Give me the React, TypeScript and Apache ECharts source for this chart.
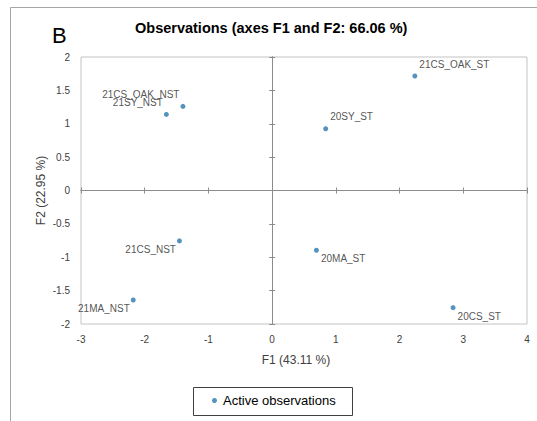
import React, { useEffect, useRef } from "react";
import * as echarts from "echarts";

const obsNames = [
  "21CS_OAK_ST",
  "20SY_ST",
  "20MA_ST",
  "20CS_ST",
  "21CS_OAK_NST",
  "21SY_NST",
  "21CS_NST",
  "21MA_NST",
];
const f1Values = [2.24, 0.84, 0.695, 2.84, -1.4, -1.66, -1.455, -2.18];
const f2Values = [1.715, 0.925, -0.895, -1.755, 1.26, 1.14, -0.755, -1.64];
const xTicks = { min: -3, max: 4, interval: 1 };
const yTicks = { min: -2, max: 2, interval: 0.5 };

const FONT = "'Liberation Sans', Arial, sans-serif";
const POINT = "#2a78ae";
const AXIS_GRAY = "#8c8c8c";

export default function App() {
  const ref = useRef<HTMLDivElement>(null);
  useEffect(() => {
    if (!ref.current) return;
    const chart = echarts.init(ref.current, undefined, { renderer: "svg" });

    const zeroX = (inside: boolean) => ({
      type: "value",
      ...xTicks,
      gridIndex: 0,
      position: "top",
      axisLine: { show: true, onZero: true, onZeroAxisIndex: 0, lineStyle: { color: AXIS_GRAY, width: 1 } },
      axisTick: { show: true, inside, length: 3, lineStyle: { color: AXIS_GRAY } },
      axisLabel: { show: false },
      splitLine: { show: false },
    });
    const zeroY = (inside: boolean) => ({
      type: "value",
      ...yTicks,
      gridIndex: 0,
      position: "right",
      axisLine: { show: true, onZero: true, onZeroAxisIndex: 0, lineStyle: { color: AXIS_GRAY, width: 1 } },
      axisTick: { show: true, inside, length: 3, lineStyle: { color: AXIS_GRAY } },
      axisLabel: { show: false },
      splitLine: { show: false },
    });

    const data = obsNames.map((n, i) => ({
      name: n,
      value: [f1Values[i], f2Values[i]],
      label: {
        position: f1Values[i] > 0 ? "right" : "left",
        distance: f1Values[i] > 0 ? 2 : 1,
        offset: [0, f2Values[i] > 0 ? -12 : 8.5],
      },
    }));

    chart.setOption({
      animation: false,
      textStyle: { fontFamily: FONT },
      title: {
        text: "Observations (axes F1 and F2: 66.06 %)",
        left: 135,
        top: 20,
        padding: 0,
        textStyle: { fontSize: 14.5, fontWeight: "bold", color: "#000", fontFamily: FONT },
      },
      grid: {
        left: 81,
        top: 57,
        right: 10,
        bottom: 97,
        show: true,
        borderColor: "#c3c3c3",
        borderWidth: 1,
        backgroundColor: "transparent",
      },
      legend: {
        left: 212,
        top: 394,
        padding: 0,
        itemWidth: 5,
        itemHeight: 5,
        icon: "circle",
        data: ["Active observations"],
        textStyle: { fontSize: 13, color: "#000", fontFamily: FONT, padding: [0, 0, 0, 1] },
      },
      xAxis: [
        {
          type: "value",
          ...xTicks,
          position: "bottom",
          axisLine: { show: false, onZero: false },
          axisTick: { show: false },
          splitLine: { show: false },
          axisLabel: { margin: 10, fontSize: 10, color: "#404040", fontFamily: FONT },
          name: "F1 (43.11 %)",
          nameLocation: "middle",
          nameGap: 30,
          nameMoveOverlap: false,
          nameTextStyle: { fontSize: 12, color: "#404040", fontFamily: FONT, padding: [0, 16, 0, 0] },
        },
        zeroX(true),
        zeroX(false),
      ],
      yAxis: [
        {
          type: "value",
          ...yTicks,
          position: "left",
          axisLine: { show: false, onZero: false },
          axisTick: { show: false },
          splitLine: { show: false },
          axisLabel: { margin: 11, fontSize: 10, color: "#404040", fontFamily: FONT },
          name: "F2 (22.95 %)",
          nameLocation: "middle",
          nameGap: 34,
          nameMoveOverlap: false,
          nameTextStyle: { fontSize: 12, color: "#404040", fontFamily: FONT },
        },
        zeroY(true),
        zeroY(false),
      ],
      graphic: [
        { type: "line", shape: { x1: 10.5, y1: 7.5, x2: 537, y2: 7.5 }, style: { stroke: "#a6a6a6", lineWidth: 1 } },
        { type: "line", shape: { x1: 10.5, y1: 7.5, x2: 10.5, y2: 421 }, style: { stroke: "#a6a6a6", lineWidth: 1 } },
        {
          type: "text",
          x: 52,
          y: 35,
          style: { text: "B", fontSize: 22, fontFamily: FONT, fill: "#000", verticalAlign: "middle", textAlign: "left" },
        },
        {
          type: "rect",
          shape: { x: 193.5, y: 387.5, width: 159, height: 28 },
          style: { fill: "none", stroke: "#404040", lineWidth: 1 },
        },
      ],
      series: [
        {
          name: "Active observations",
          type: "scatter",
          xAxisIndex: 0,
          yAxisIndex: 0,
          symbol: "circle",
          symbolSize: 5,
          itemStyle: { color: POINT },
          label: {
            show: true,
            formatter: (p: any) => p.name,
            fontSize: 10,
            color: "#262626",
            fontFamily: FONT,
          },
          data,
        },
      ],
    });
    return () => chart.dispose();
  }, []);
  return (
    <div
      ref={ref}
      style={{ position: "fixed", left: 0, top: 0, width: 537, height: 421, background: "#fff" }}
    />
  );
}
